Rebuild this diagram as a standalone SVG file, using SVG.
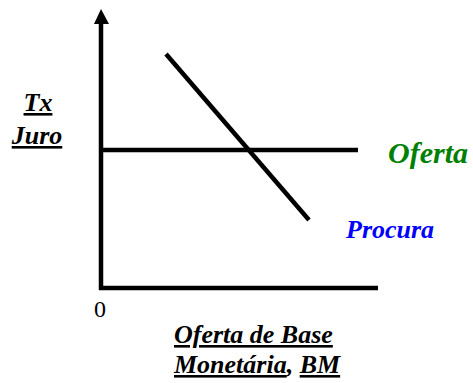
<svg xmlns="http://www.w3.org/2000/svg" width="473" height="383" viewBox="0 0 473 383">
<style>
.lbl{font-weight:bold;font-style:italic;}
.u{text-decoration:underline;}
.ln{stroke:#000;stroke-width:4.5;fill:none;}
</style>
<rect width="473" height="383" fill="#fff"/>
<g id="connectors">
<line class="ln" x1="101" y1="290" x2="101" y2="22"/>
<polygon points="101,9 94,24 109,24" fill="#000"/>
<line class="ln" x1="99" y1="288" x2="378" y2="288"/>
</g>
<g id="oferta-line"><line class="ln" x1="103" y1="150" x2="358" y2="150"/></g>
<g id="procura-line"><line class="ln" x1="166" y1="54" x2="309" y2="220"/></g>
<g font-family="Liberation Serif, serif">
<g id="y-label">
<text class="lbl u" x="38" y="111" font-size="26" text-anchor="middle">Tx</text>
<text class="lbl u" x="37" y="144" font-size="26" text-anchor="middle">Juro</text>
</g>
<g id="oferta-label"><text class="lbl" x="388" y="163" font-size="30" fill="#008000">Oferta</text></g>
<g id="procura-label"><text class="lbl" x="346" y="238" font-size="26" fill="#0000ff">Procura</text></g>
<g id="origin"><text x="100" y="317" font-size="24" text-anchor="middle">0</text></g>
<g id="x-label">
<text class="lbl u" x="174" y="343" font-size="26">Oferta de Base</text>
<text class="lbl" x="174" y="373" font-size="26"><tspan class="u">Monetária</tspan>, <tspan class="u">BM</tspan></text>
</g>
</g>
</svg>
